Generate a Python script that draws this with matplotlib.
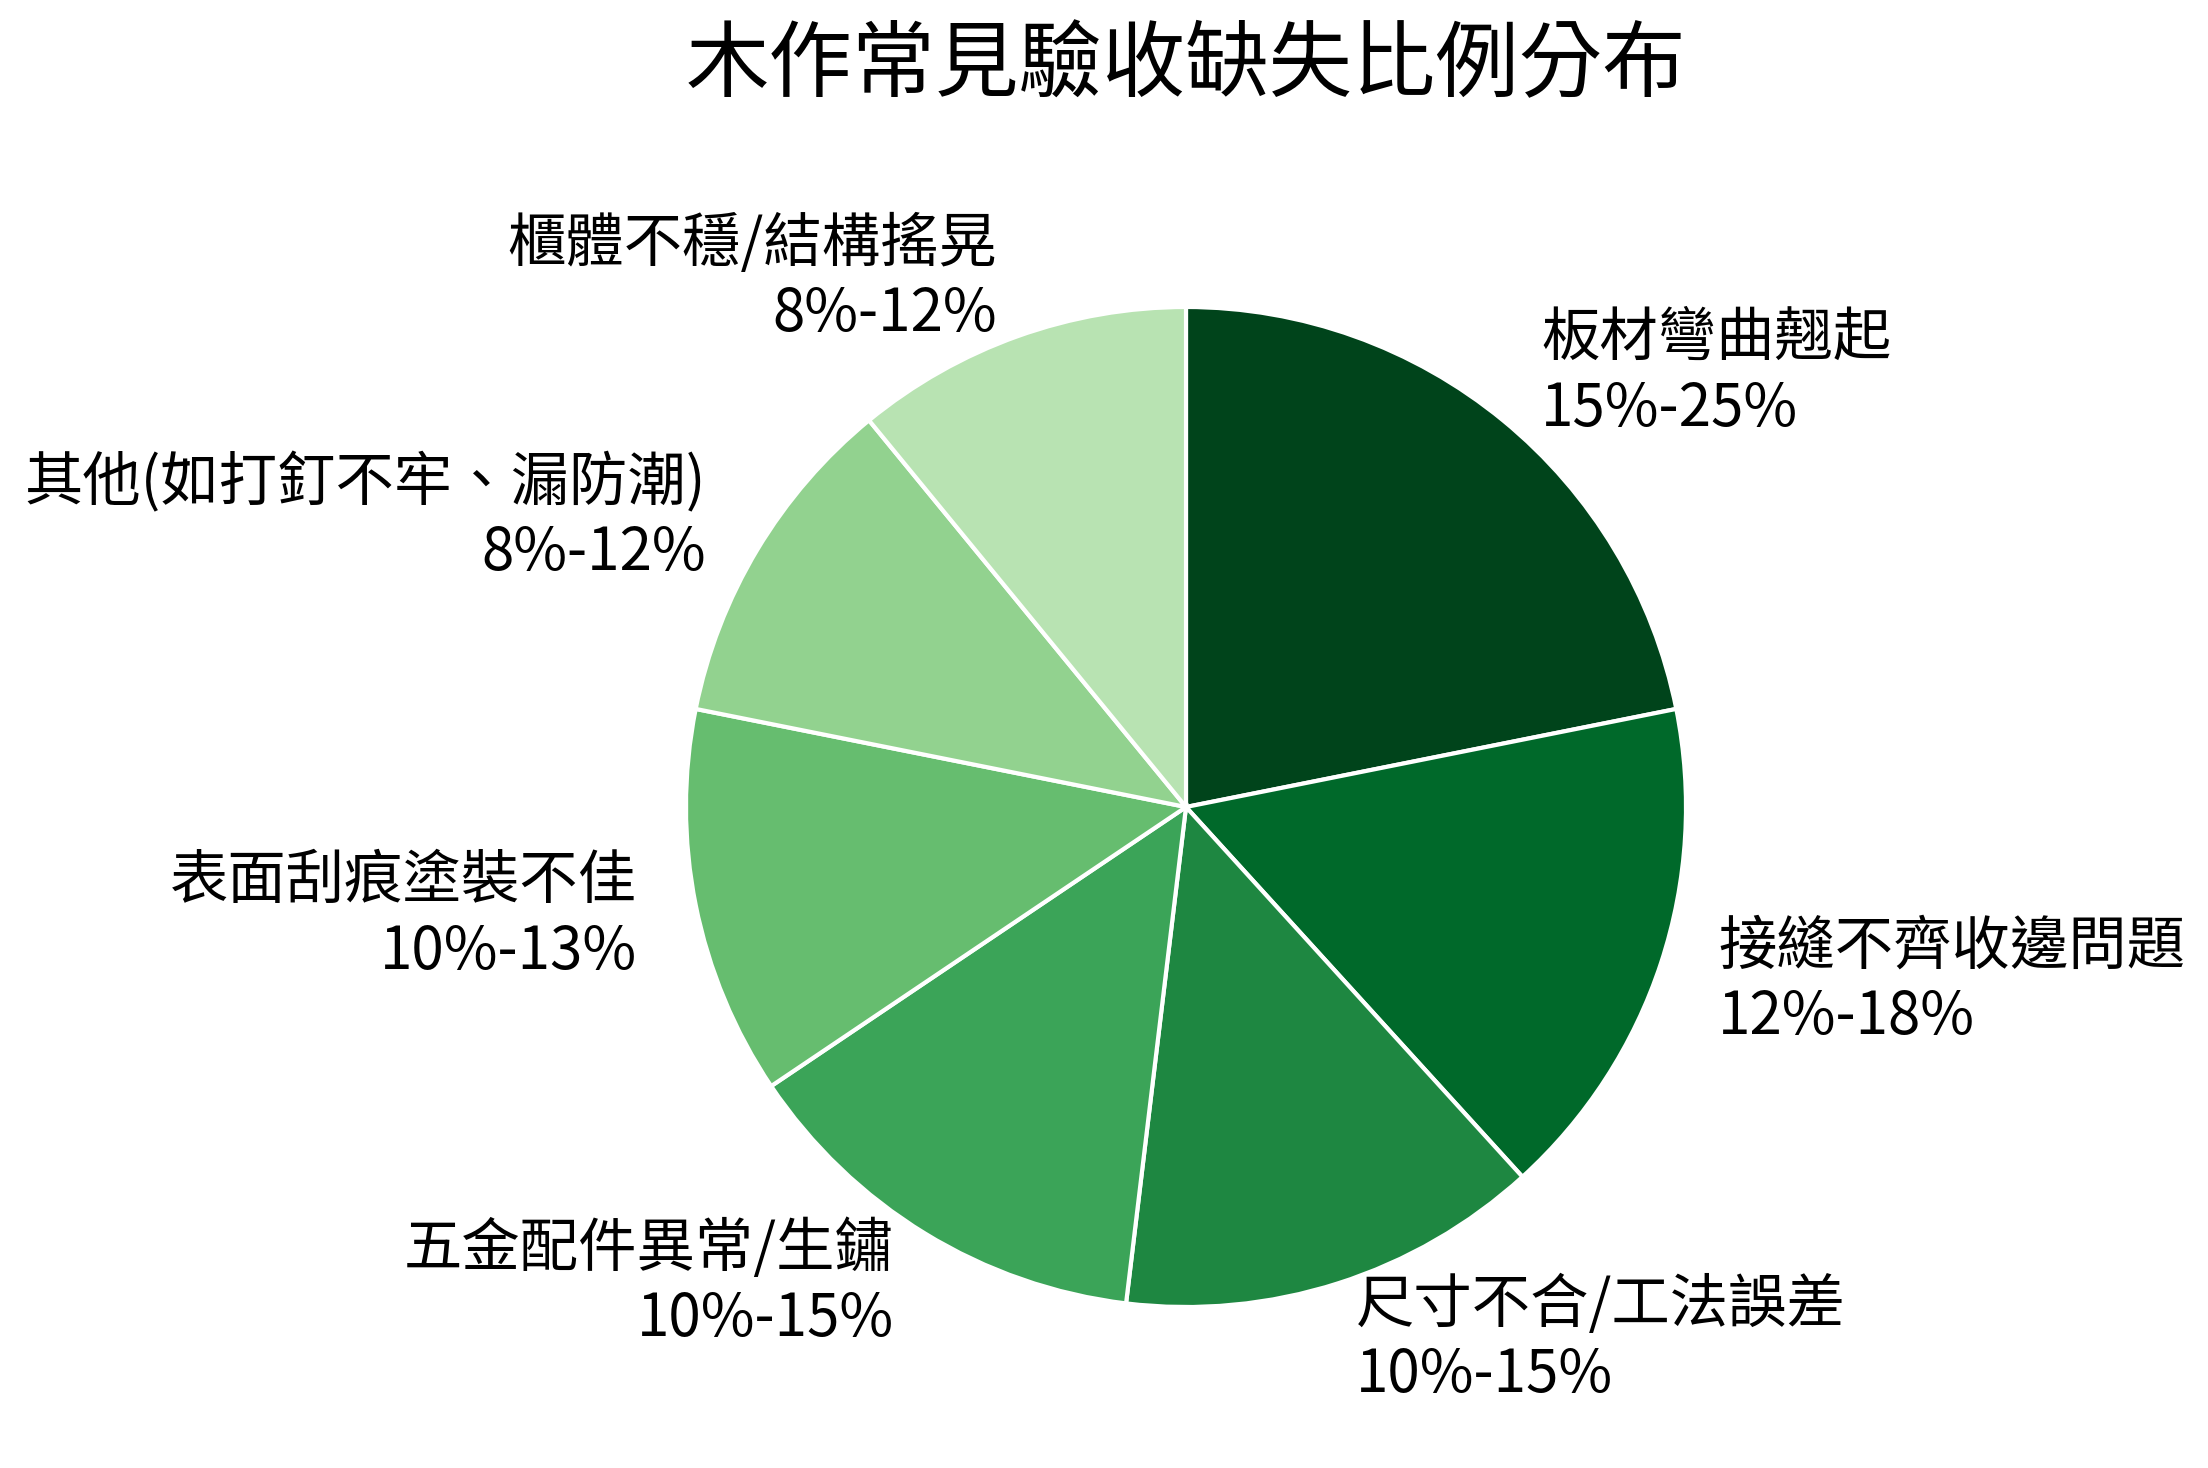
import matplotlib

matplotlib.use("Agg")
import matplotlib.pyplot as plt  # noqa: E402
import numpy as np  # noqa: E402

plt.rcParams["font.family"] = ["Noto Sans CJK TC", "DejaVu Sans"]

# defect categories, clockwise from 12 o'clock
categories = [
    "板材彎曲翹起",
    "接縫不齊收邊問題",
    "尺寸不合/工法誤差",
    "五金配件異常/生鏽",
    "表面刮痕塗裝不佳",
    "其他(如打釘不牢、漏防潮)",
    "櫃體不穩/結構搖晃",
]
ranges = ["15%-25%", "12%-18%", "10%-15%", "10%-15%", "10%-13%", "8%-12%", "8%-12%"]
# midpoint of each range, used as slice size
midpoints = [20.0, 15.0, 12.5, 12.5, 11.5, 10.0, 10.0]

colors = plt.cm.Greens(np.linspace(1.0, 0.3, len(midpoints)))
labels = [f"{c}\n{r}" for c, r in zip(categories, ranges)]

W, H, DPI = 2208, 1468, 200
fig = plt.figure(figsize=(W / DPI, H / DPI), dpi=DPI)

cx, cy, rad = 1186, 807, 500
ax = fig.add_axes([(cx - rad) / W, (H - cy - rad) / H, 2 * rad / W, 2 * rad / H])
wedges, texts = ax.pie(
    midpoints,
    labels=labels,
    colors=colors,
    startangle=90,
    counterclock=False,
    labeldistance=1.12,
    wedgeprops=dict(edgecolor="white", linewidth=1.5),
    textprops=dict(fontsize=21),
)
ax.set_xlim(-1, 1)
ax.set_ylim(-1, 1)
ax.set_aspect("equal")

fig.text(cx / W, 1 - 66 / H, "木作常見驗收缺失比例分布", ha="center", va="center",
         fontsize=30)

fig.savefig("out.png", dpi=DPI, facecolor="white")
